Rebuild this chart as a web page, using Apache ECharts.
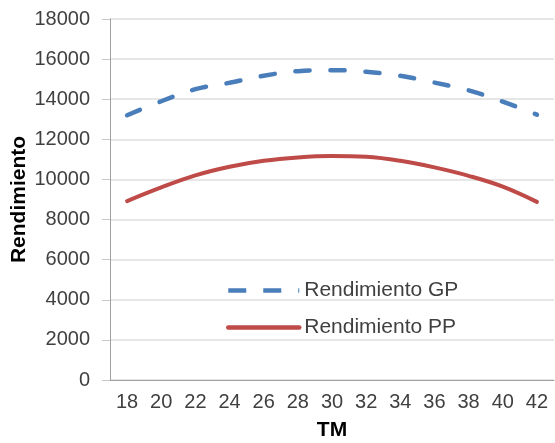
<!DOCTYPE html>
<html>
<head>
<meta charset="utf-8">
<script src="https://cdn.jsdelivr.net/npm/echarts@6/dist/echarts.min.js"></script>
<style>
html,body{margin:0;padding:0;background:#fff;}
#c{width:555px;height:443px;}
</style>
</head>
<body>
<div id="c"></div>
<script>
var categories = ['18','20','22','24','26','28','30','32','34','36','38','40','42'];
var gpValues = [13200, 13900, 14500, 14820, 15170, 15400, 15450, 15370, 15170, 14830, 14440, 13880, 13230];
var ppValues = [8920, 9600, 10200, 10630, 10930, 11100, 11170, 11130, 10930, 10600, 10180, 9640, 8880];
var yTicks = { min: 0, max: 18000, interval: 2000 };
var seriesNames = ['Rendimiento GP', 'Rendimiento PP'];

var FONT = '"Liberation Sans", Arial, sans-serif';
var chart = echarts.init(document.getElementById('c'), null, { renderer: 'canvas' });
chart.setOption({
  animation: false,
  backgroundColor: '#ffffff',
  grid: { left: 110, right: 1, top: 19, bottom: 63, containLabel: false, outerBoundsMode: 'none' },
  legend: {
    orient: 'vertical',
    left: 226,
    top: 280,
    padding: 0,
    itemWidth: 71,
    itemHeight: 18,
    itemGap: 16,
    itemStyle: { opacity: 0 },
    lineStyle: { width: 4.5 },
    textStyle: { fontFamily: FONT, fontSize: 21, color: '#404040' },
    data: [
      { name: seriesNames[0], lineStyle: { width: 4.5, type: [18, 17], cap: 'butt' } },
      { name: seriesNames[1], lineStyle: { width: 4.5 } }
    ]
  },
  xAxis: {
    type: 'category',
    data: categories,
    boundaryGap: true,
    name: 'TM',
    nameLocation: 'middle',
    nameGap: 40,
    nameMoveOverlap: false,
    nameTextStyle: { fontFamily: FONT, fontSize: 21, fontWeight: 'bold', color: '#000' },
    axisLine: { lineStyle: { color: '#a0a0a0', width: 1 } },
    axisTick: { show: false },
    axisLabel: { fontFamily: FONT, fontSize: 20, color: '#404040', margin: 12 }
  },
  yAxis: {
    type: 'value',
    min: yTicks.min,
    max: yTicks.max,
    interval: yTicks.interval,
    name: 'Rendimiento',
    nameLocation: 'middle',
    nameGap: 80,
    nameMoveOverlap: false,
    nameTextStyle: { fontFamily: FONT, fontSize: 21, fontWeight: 'bold', color: '#000' },
    axisLine: { show: true, lineStyle: { color: '#a0a0a0', width: 1 } },
    axisTick: { show: true, length: 8, lineStyle: { color: '#c8c8c8' } },
    axisLabel: { fontFamily: FONT, fontSize: 20, color: '#404040', margin: 20,
      formatter: function (v) { return String(v); } },
    splitLine: { lineStyle: { color: '#dedede', width: 1.5 } }
  },
  series: [
    {
      name: seriesNames[0],
      type: 'line',
      data: gpValues,
      smooth: 0.4,
      symbol: 'none',
      lineStyle: { color: '#4a7ebb', width: 4.5, type: [14, 21], cap: 'round' },
      itemStyle: { color: '#4a7ebb' }
    },
    {
      name: seriesNames[1],
      type: 'line',
      data: ppValues,
      smooth: 0.4,
      symbol: 'none',
      lineStyle: { color: '#be4b48', width: 4, cap: 'round' },
      itemStyle: { color: '#be4b48' }
    }
  ]
});
</script>
</body>
</html>
